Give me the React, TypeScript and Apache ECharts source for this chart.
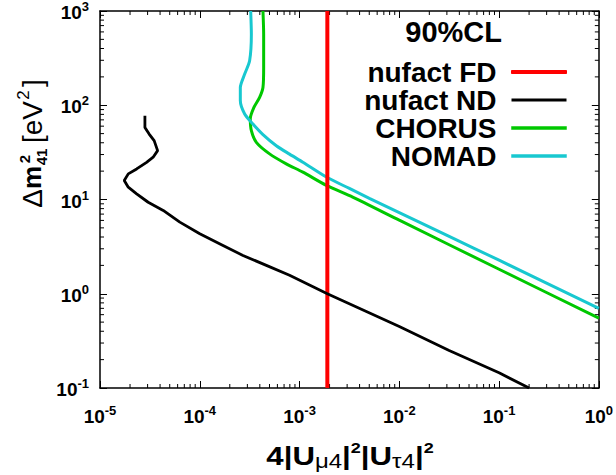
import React, { useEffect, useRef } from 'react';
import * as echarts from 'echarts';

// ---- data ----
const fdX = [1.9e-3, 1.9e-3];
const fdY = [0.1, 1000];

const ndX = [2.82e-5, 2.82e-5, 3.11e-5, 3.49e-5, 3.78e-5, 3.41e-5, 2.93e-5, 2.33e-5, 1.92e-5, 1.75e-5, 1.92e-5, 2.33e-5, 3.04e-5, 4.3e-5, 6.31e-5, 1.0e-4, 1.71e-4, 2.71e-4, 4.65e-4, 7.94e-4, 1.9e-3, 1.0e-2, 3.16e-2, 0.1, 0.2];
const ndY = [77.4, 58.2, 49.5, 42.1, 33.0, 28.1, 24.8, 21.1, 18.7, 15.9, 13.5, 11.5, 9.35, 7.66, 5.75, 4.34, 3.26, 2.55, 2.0, 1.57, 1.0, 0.45, 0.25, 0.145, 0.1];

const chorusX = [4.3e-4, 4.37e-4, 4.37e-4, 4.3e-4, 3.98e-4, 3.49e-4, 3.21e-4, 3.29e-4, 3.69e-4, 5.01e-4, 7.36e-4, 1.08e-3, 1.86e-3, 3.41e-3, 1.0e-2, 0.1, 1.0];
const chorusY = [1000, 566, 251, 154, 121, 94.8, 71.9, 53.7, 40.4, 30.5, 23.9, 19.5, 14.1, 10.6, 6.03, 1.82, 0.551];

const nomadX = [3.24e-4, 3.29e-4, 3.16e-4, 2.82e-4, 2.55e-4, 2.55e-4, 2.82e-4, 3.41e-4, 4.3e-4, 5.85e-4, 7.94e-4, 1.08e-3, 1.9e-3, 3.16e-3, 5.01e-3, 3.16e-2, 0.1, 1.0];
const nomadY = [1000, 566, 296, 214, 154, 112, 80.7, 63.2, 48.8, 37.2, 30.3, 24.9, 17.1, 13.1, 10.3, 4.06, 2.27, 0.70];

const seriesNames = ['nufact FD', 'nufact ND', 'CHORUS', 'NOMAD'];
const xDecades = [1e-5, 1e-4, 1e-3, 1e-2, 1e-1];
const yDecades = [1e-1, 1, 10, 100];
const minorMult = [2, 3, 4, 5, 6, 7, 8, 9];

const FONT = 'Liberation Sans, Arial, Helvetica, sans-serif';

const zip = (xs: number[], ys: number[]) => xs.map((x, i) => [x, ys[i]]);

const txt = (text: string, x: number, y: number, font: string) => ({
  type: 'text', x, y,
  style: { text, font, fill: '#000', align: 'center', textAlign: 'center', verticalAlign: 'middle', textVerticalAlign: 'middle' },
});

export default function App() {
  const ref = useRef<HTMLDivElement>(null);
  useEffect(() => {
    if (!ref.current) return;
    const chart = echarts.init(ref.current, undefined, { renderer: 'svg' });

    const xMinor: number[][] = [];
    xDecades.forEach((d) => minorMult.forEach((m) => xMinor.push([d * m, 1])));
    const yMinor: number[][] = [];
    yDecades.forEach((d) => minorMult.forEach((m) => yMinor.push([1e-3, d * m])));

    const expLabel = (v: number) => {
      const e = Math.round(Math.log10(v));
      return '{b|10}{s|' + e + '}';
    };
    const labelRich = {
      b: { fontSize: 19, fontWeight: 'bold', fontFamily: FONT, color: '#000', lineHeight: 22, verticalAlign: 'bottom' },
      s: { fontSize: 13, fontWeight: 'bold', fontFamily: FONT, color: '#000', lineHeight: 13, verticalAlign: 'top' },
    };
    const axLine = { show: true, lineStyle: { color: '#000', width: 1.5 } };
    const axTick = { show: true, inside: true, length: 7, lineStyle: { color: '#000', width: 1 } };

    const tickStyle = { stroke: '#000', lineWidth: 1 };

    chart.setOption({
      animation: false,
      grid: { left: 100, right: 16, top: 10, bottom: 87 },
      xAxis: [
        {
          type: 'log', logBase: 10, min: 1e-5, max: 1, position: 'bottom',
          axisLine: axLine, axisTick: axTick, splitLine: { show: false },
          axisLabel: { formatter: expLabel, rich: labelRich, margin: 16, showMinLabel: true, showMaxLabel: true },
        },
        {
          type: 'log', logBase: 10, min: 1e-5, max: 1, position: 'top',
          axisLine: axLine, axisTick: axTick, splitLine: { show: false }, axisLabel: { show: false },
        },
      ],
      yAxis: [
        {
          type: 'log', logBase: 10, min: 0.1, max: 1000, position: 'left',
          axisLine: axLine, axisTick: axTick, splitLine: { show: false },
          axisLabel: { formatter: expLabel, rich: labelRich, margin: 11, showMinLabel: true, showMaxLabel: true },
        },
        {
          type: 'log', logBase: 10, min: 0.1, max: 1000, position: 'right',
          axisLine: axLine, axisTick: axTick, splitLine: { show: false }, axisLabel: { show: false },
        },
      ],
      legend: {
        orient: 'vertical', right: 49, top: 58, align: 'right',
        itemWidth: 55, itemHeight: 3, itemGap: 0, padding: 0,
        icon: 'rect',
        data: [
          { name: seriesNames[0], icon: 'rect', itemStyle: { color: '#ff0000', borderColor: '#ff0000', borderWidth: 1 } },
          { name: seriesNames[1], icon: 'rect', itemStyle: { color: '#000000', borderWidth: 0 } },
          { name: seriesNames[2], icon: 'rect', itemStyle: { color: '#00c800', borderColor: '#00c800', borderWidth: 0.5 } },
          { name: seriesNames[3], icon: 'rect', itemStyle: { color: '#18c8d0', borderColor: '#18c8d0', borderWidth: 0.5 } },
        ],
        textStyle: { fontSize: 28, fontWeight: 'bold', fontFamily: FONT, color: '#000', lineHeight: 27, padding: [0, 10, 0, 0] },
      },
      graphic: [
        {
          type: 'text', x: 502, y: 32,
          style: { text: '90%CL', font: 'bold 29px ' + FONT, fill: '#000', align: 'right', textAlign: 'right', verticalAlign: 'middle', textVerticalAlign: 'middle' },
        },
        {
          type: 'text', x: 350, y: 456, scaleX: 1.2,
          style: {
            text: '{b|4|U}{sub|μ4}{b||}{sup|2}{b||U}{sub|τ4}{b||}{sup|2}',
            align: 'center', textAlign: 'center', verticalAlign: 'middle', textVerticalAlign: 'middle',
            rich: {
              b: { fontSize: 26, fontWeight: 'bold', fontFamily: FONT, fill: '#000', lineHeight: 30, verticalAlign: 'middle' },
              sub: { fontSize: 20, fontFamily: FONT, fill: '#000', lineHeight: 30, verticalAlign: 'bottom' },
              sup: { fontSize: 15, fontWeight: 'bold', fontFamily: FONT, fill: '#000', lineHeight: 30, verticalAlign: 'top' },
            },
          },
        },
        {
          type: 'group', x: 32, y: 140, rotation: Math.PI / 2,
          children: [
            txt('Δ', -58.5, 0, '28px ' + FONT),
            txt('m', -37.5, 0, 'bold 26px ' + FONT),
            txt('2', -19, -8, 'bold 15px ' + FONT),
            txt('41', -17, 9, 'bold 15px ' + FONT),
            txt('[eV', 18, 0, '28px ' + FONT),
            txt('2', 45, -9, '17px ' + FONT),
            txt(']', 57, 0, '28px ' + FONT),
          ],
        },
      ],
      series: [
        {
          name: 'CHORUS', type: 'line', data: zip(chorusX, chorusY), showSymbol: false, symbol: 'none', smooth: 0.25,
          lineStyle: { color: '#00c800', width: 3 }, itemStyle: { color: '#00c800' }, clip: true,
        },
        {
          name: 'NOMAD', type: 'line', data: zip(nomadX, nomadY), showSymbol: false, symbol: 'none', smooth: 0.25,
          lineStyle: { color: '#18c8d0', width: 3 }, itemStyle: { color: '#18c8d0' }, clip: true,
        },
        {
          name: 'nufact FD', type: 'line', data: zip(fdX, fdY), showSymbol: false, symbol: 'none',
          lineStyle: { color: '#ff0000', width: 4 }, itemStyle: { color: '#ff0000' }, clip: true,
        },
        {
          name: 'nufact ND', type: 'line', data: zip(ndX, ndY), showSymbol: false, symbol: 'none',
          lineStyle: { color: '#000000', width: 2.8 }, itemStyle: { color: '#000000' }, clip: true,
        },
        {
          name: 'xminor', type: 'custom', data: xMinor, silent: true,
          renderItem: (params: any, api: any) => {
            const cs = params.coordSys;
            const px = api.coord([api.value(0), 1])[0];
            const top = cs.y, bot = cs.y + cs.height;
            return {
              type: 'group',
              children: [
                { type: 'line', shape: { x1: px, y1: bot, x2: px, y2: bot - 4 }, style: tickStyle },
                { type: 'line', shape: { x1: px, y1: top, x2: px, y2: top + 4 }, style: tickStyle },
              ],
            };
          },
        },
        {
          name: 'yminor', type: 'custom', data: yMinor, silent: true,
          renderItem: (params: any, api: any) => {
            const cs = params.coordSys;
            const py = api.coord([1e-3, api.value(1)])[1];
            const l = cs.x, r = cs.x + cs.width;
            return {
              type: 'group',
              children: [
                { type: 'line', shape: { x1: l, y1: py, x2: l + 4, y2: py }, style: tickStyle },
                { type: 'line', shape: { x1: r, y1: py, x2: r - 4, y2: py }, style: tickStyle },
              ],
            };
          },
        },
      ],
    });
    return () => chart.dispose();
  }, []);
  return <div ref={ref} style={{ width: 616, height: 475, position: 'absolute', left: 0, top: 0 }} />;
}
